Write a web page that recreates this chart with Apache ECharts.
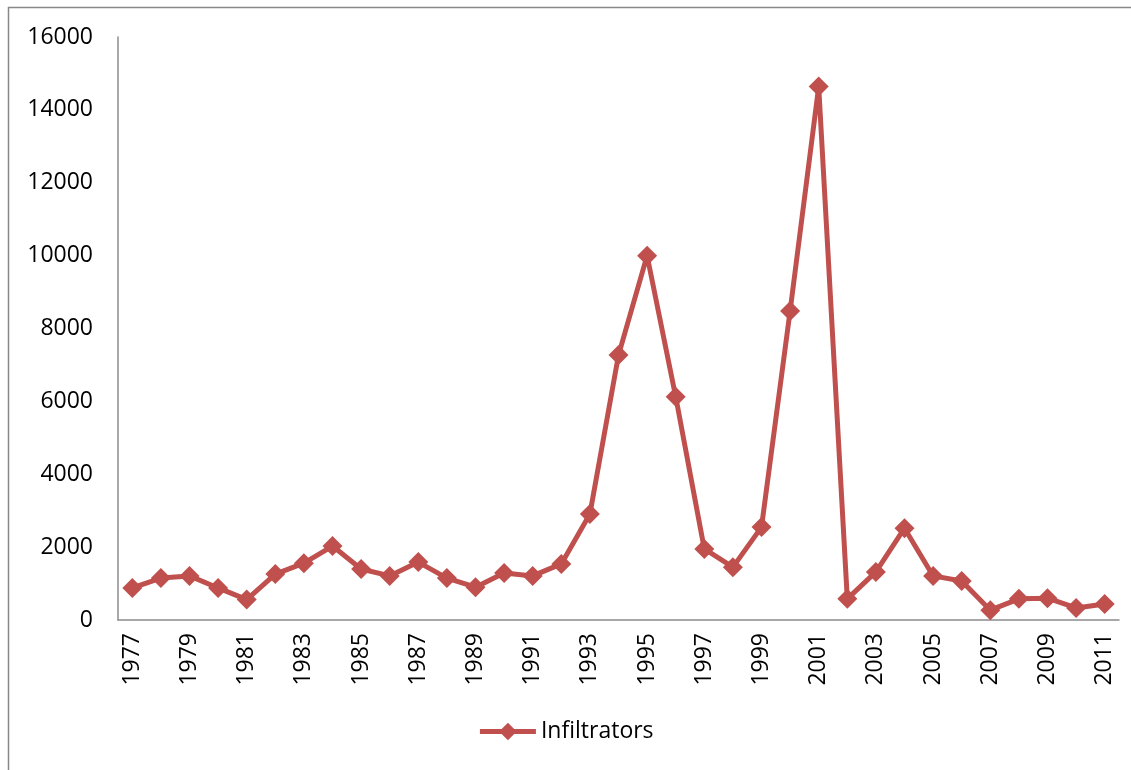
<!DOCTYPE html>
<html lang="en">
<head>
    <meta charset="UTF-8">
    <title>Infiltrators</title>
    <script src="https://cdn.jsdelivr.net/npm/echarts@6/dist/echarts.min.js"></script>
    <style>
        html, body { margin: 0; padding: 0; background: #fff; }
        #main { width: 1131px; height: 770px; }
    </style>
</head>
<body>

<div id="main"></div>

<script>
    // years on x axis
    var years = [];
    for (var y = 1977; y <= 2011; y++) { years.push(String(y)); }

    // infiltrators per year
    var infiltrators = [
        880, 1150, 1210, 880, 560, 1260, 1560, 2030, 1400, 1210,
        1590, 1150, 900, 1290, 1210, 1540, 2910, 7270, 10000, 6130,
        1950, 1450, 2550, 8480, 14640, 580, 1320, 2520, 1210, 1070,
        270, 580, 600, 330, 440
    ];

    var yTicks = { min: 0, max: 16000, interval: 2000 };

    var font = '"Open Sans", "Liberation Sans", sans-serif';
    var red = '#C0504D';

    var myChart = echarts.init(document.getElementById('main'));
    var option = {
        animation: false,
        textStyle: { fontFamily: font },
        graphic: [{
            type: 'rect',
            shape: { x: 8.5, y: 7.5, width: 1125, height: 775 },
            style: { fill: 'none', stroke: '#888', lineWidth: 1.5 },
            silent: true
        }],
        grid: { left: 118, right: 12, top: 37, bottom: 150 },
        legend: {
            bottom: 22,
            left: 'center',
            itemWidth: 56,
            itemHeight: 22,
            itemGap: 6,
            lineStyle: { width: 5 },
            textStyle: { fontSize: 23, color: '#000', fontFamily: font },
            data: ['Infiltrators']
        },
        xAxis: {
            type: 'category',
            data: years,
            boundaryGap: true,
            axisLine: { lineStyle: { color: '#8c8c8c', width: 1.5 } },
            axisTick: { show: false },
            axisLabel: {
                rotate: 90,
                interval: 1,
                margin: 13,
                fontSize: 23,
                color: '#000',
                fontFamily: font
            }
        },
        yAxis: {
            type: 'value',
            min: yTicks.min,
            max: yTicks.max,
            interval: yTicks.interval,
            axisLine: { show: true, lineStyle: { color: '#8c8c8c', width: 1.5 } },
            axisTick: { show: false },
            splitLine: { show: false },
            axisLabel: {
                margin: 25,
                fontSize: 23,
                color: '#000',
                fontFamily: font,
                formatter: function (v) { return String(v); }
            }
        },
        series: [{
            name: 'Infiltrators',
            type: 'line',
            data: infiltrators,
            symbol: 'diamond',
            symbolSize: 20,
            showAllSymbol: true,
            lineStyle: { color: red, width: 5 },
            itemStyle: { color: red }
        }]
    };
    myChart.setOption(option);
</script>

</body>
</html>
